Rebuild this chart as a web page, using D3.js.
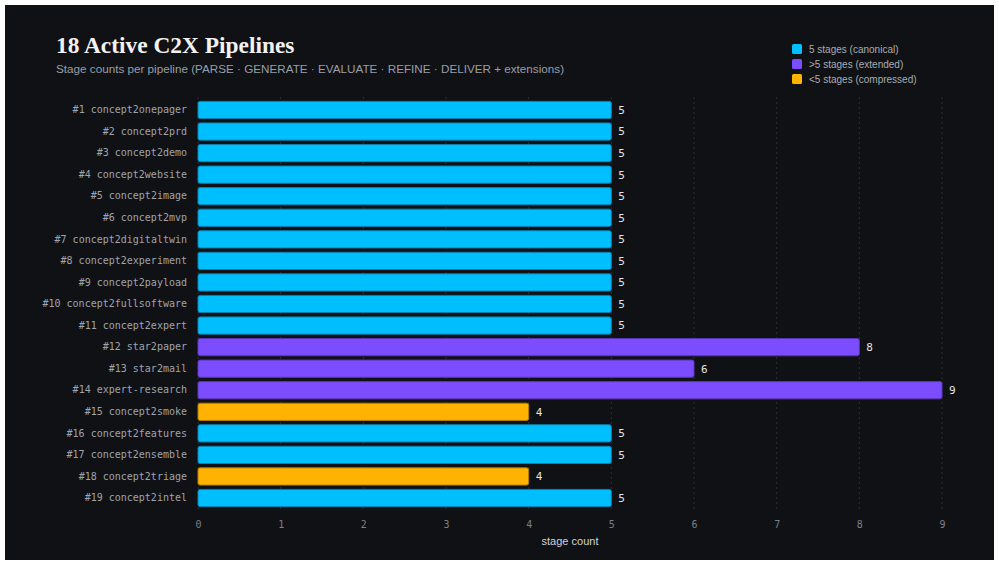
<!DOCTYPE html>
<html><head><meta charset="utf-8">
<script src="https://cdn.jsdelivr.net/npm/d3@7"></script>
<style>
html,body{margin:0;padding:0;background:#ffffff;}
svg{position:absolute;left:5px;top:5px;}
</style></head>
<body>
<script>
const pipelines = ["#1 concept2onepager","#2 concept2prd","#3 concept2demo","#4 concept2website","#5 concept2image","#6 concept2mvp","#7 concept2digitaltwin","#8 concept2experiment","#9 concept2payload","#10 concept2fullsoftware","#11 concept2expert","#12 star2paper","#13 star2mail","#14 expert-research","#15 concept2smoke","#16 concept2features","#17 concept2ensemble","#18 concept2triage","#19 concept2intel"];
const stages = [5,5,5,5,5,5,5,5,5,5,5,8,6,9,4,5,5,4,5];
const xTicks = [0,1,2,3,4,5,6,7,8,9];
const legendLabels = ["5 stages (canonical)", ">5 stages (extended)", "<5 stages (compressed)"];
const legendColors = ["#00BFFF", "#7C4DFF", "#FFB300"];

const W = 989, H = 555, ox = 5, oy = 5;
const svg = d3.select("body").append("svg").attr("width", W).attr("height", H);
svg.append("rect").attr("width", W).attr("height", H).attr("fill", "#0f1115");
const g = svg.append("g").attr("transform", `translate(${-ox},${-oy})`);

const x = d3.scaleLinear().domain([0, 9]).range([198, 942]);
const y = d3.scaleBand().domain(pipelines).range([99.2, 508.8]).paddingInner(0.2).paddingOuter(0.1);

function colorOf(v){ return v === 5 ? legendColors[0] : (v > 5 ? legendColors[1] : legendColors[2]); }
function strokeOf(v){ return v === 5 ? "#0a7fb0" : (v > 5 ? "#5a35b8" : "#b07c00"); }

// grid
g.append("g").selectAll("line").data(xTicks).join("line")
  .attr("x1", d => x(d)).attr("x2", d => x(d))
  .attr("y1", 97).attr("y2", 511)
  .attr("stroke", "#2a2e36").attr("stroke-width", 1).attr("stroke-dasharray", "2,3");

// bars
g.append("g").selectAll("rect").data(pipelines).join("rect")
  .attr("x", x(0)).attr("y", d => y(d))
  .attr("width", (d,i) => x(stages[i]) - x(0))
  .attr("height", y.bandwidth())
  .attr("rx", 2).attr("ry", 2)
  .attr("fill", (d,i) => colorOf(stages[i]))
  .attr("stroke", (d,i) => strokeOf(stages[i])).attr("stroke-width", 1);

// value labels
g.append("g").selectAll("text").data(pipelines).join("text")
  .attr("x", (d,i) => x(stages[i]) + 7)
  .attr("y", d => y(d) + y.bandwidth()/2)
  .attr("dy", "0.35em")
  .attr("fill", "#e6e6e6")
  .attr("font-family", "'DejaVu Sans Mono', monospace").attr("font-size", 11)
  .text((d,i) => stages[i]);

// y axis labels
const yAxis = d3.axisLeft(y).tickSize(0).tickPadding(0);
const ya = g.append("g").attr("transform", `translate(187,0)`).call(yAxis);
ya.select(".domain").remove();
ya.selectAll("text").attr("fill", "#a0a4ab").attr("font-family", "'DejaVu Sans Mono', monospace").attr("font-size", 10);

// x axis
const xAxis = d3.axisBottom(x).tickValues(xTicks).tickSize(0).tickPadding(0);
const xa = g.append("g").attr("transform", `translate(0,521)`).call(xAxis);
xa.select(".domain").remove();
xa.selectAll("text").attr("fill", "#7c8088").attr("font-family", "'DejaVu Sans Mono', monospace").attr("font-size", 10);

g.append("text").attr("x", 570).attr("y", 545).attr("text-anchor", "middle")
  .attr("fill", "#d0d3d8").attr("font-family", "'Liberation Sans', Arial, sans-serif").attr("font-size", 11)
  .text("stage count");

// title
g.append("text").attr("x", 56).attr("y", 53)
  .attr("fill", "#f2f2f2").attr("font-family", "'Liberation Serif', 'Times New Roman', serif")
  .attr("font-weight", "bold").attr("font-size", 23.4)
  .text("18 Active C2X Pipelines");
g.append("text").attr("x", 56).attr("y", 73)
  .attr("fill", "#9a9ea6").attr("font-family", "'Liberation Sans', Arial, sans-serif").attr("font-size", 11.7)
  .text("Stage counts per pipeline (PARSE · GENERATE · EVALUATE · REFINE · DELIVER + extensions)");

// legend
const lg = g.append("g").selectAll("g").data(legendLabels).join("g")
  .attr("transform", (d,i) => `translate(792,${44 + i*15})`);
lg.append("rect").attr("width", 10).attr("height", 10).attr("rx", 1.5)
  .attr("fill", (d,i) => legendColors[i]);
lg.append("text").attr("x", 17).attr("y", 5).attr("dy", "0.35em")
  .attr("fill", "#a9adb4").attr("font-family", "'Liberation Sans', Arial, sans-serif").attr("font-size", 10)
  .text(d => d);
</script>
</body></html>
